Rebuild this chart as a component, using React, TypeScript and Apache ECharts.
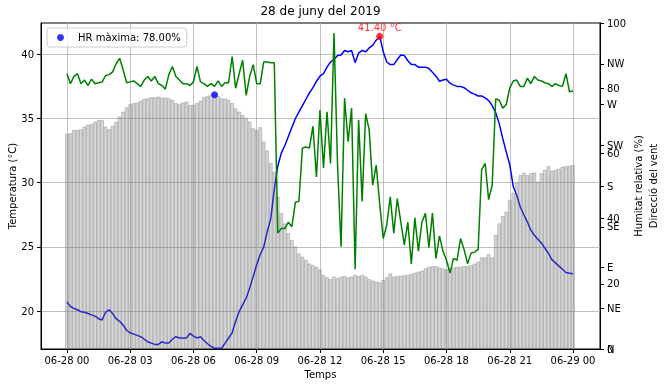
import React, { useEffect, useRef } from "react";
import * as echarts from "echarts";

const FONT = "DejaVu Sans";
const STEP_MINUTES = 10;

const temperature = [
  20.7, 20.35, 20.2, 20.1, 19.95, 19.9, 19.8, 19.7, 19.6, 19.4,
  19.3, 19.9, 20.1, 19.8, 19.4, 19.2, 18.9, 18.5, 18.3, 18.2,
  18.1, 18.0, 17.8, 17.6, 17.5, 17.4, 17.4, 17.6, 17.5, 17.5,
  17.8, 18.0, 17.9, 17.9, 17.9, 18.25, 18.05, 17.9, 18.0, 17.7,
  17.45, 17.25, 17.1, 17.1, 17.1, 17.5, 17.9, 18.3, 19.2, 19.95,
  20.5, 21.0, 21.8, 22.7, 23.6, 24.4, 25.0, 26.2, 27.2, 29.5,
  31.3, 32.3, 32.9, 33.6, 34.3, 35.0, 35.5, 36.0, 36.5, 37.0,
  37.4, 37.9, 38.3, 38.5, 39.0, 39.4, 39.6, 39.9, 39.95, 40.3,
  40.2, 40.3, 39.35, 40.1, 40.3, 40.2, 40.5, 40.7, 41.1, 41.4,
  40.2, 39.4, 39.2, 39.2, 39.6, 39.95, 39.9, 39.5, 39.2, 39.2,
  39.0, 39.0, 39.0, 38.9, 38.6, 38.3, 37.9, 38.0, 38.05, 37.75,
  37.6, 37.5, 37.5, 37.4, 37.2, 37.0, 36.9, 36.75, 36.75, 36.6,
  36.4, 36.0, 35.45, 34.6, 33.45, 32.4, 31.4, 29.7, 29.0, 28.1,
  27.5, 26.95, 26.3, 25.9, 25.6, 25.3, 24.9, 24.5, 24.0, 23.75,
  23.5, 23.25, 23.0, 22.95, 22.9,
];

const humidity = [
  66.0, 66.2, 67.2, 67.2, 67.4, 68.2, 68.8, 69.0, 69.7, 70.2,
  70.2, 68.2, 67.4, 68.4, 69.7, 71.3, 72.8, 74.1, 75.1, 75.4,
  75.6, 76.2, 76.7, 76.9, 77.2, 77.2, 77.4, 77.1, 77.1, 76.9,
  76.4, 75.4, 75.2, 75.6, 75.9, 74.9, 74.9, 75.4, 76.1, 77.3,
  77.6, 77.9, 78.0, 77.6, 76.9, 76.8, 76.4, 75.4, 73.8, 72.8,
  71.8, 70.8, 69.7, 67.7, 67.2, 68.0, 63.6, 60.8, 57.0, 54.4,
  46.7, 41.6, 38.5, 35.5, 33.4, 31.4, 29.3, 28.3, 27.3, 26.2,
  25.7, 25.2, 24.4, 22.7, 22.0, 21.4, 22.2, 21.7, 22.2, 22.4,
  22.0, 22.2, 22.7, 22.4, 22.7, 22.2, 21.4, 21.0, 20.7, 20.4,
  21.2, 22.0, 23.2, 22.2, 22.4, 22.4, 22.7, 22.7, 23.0, 23.4,
  23.7, 24.0, 24.7, 25.2, 25.4, 25.4, 25.0, 24.7, 24.4, 24.7,
  25.0, 25.2, 25.2, 25.4, 25.4, 25.7, 26.2, 26.8, 28.1, 28.1,
  29.1, 28.1, 35.0, 38.5, 40.8, 42.1, 45.7, 47.9, 51.0, 53.3,
  54.1, 53.3, 53.9, 54.1, 51.3, 53.9, 54.9, 56.1, 54.7, 54.9,
  55.3, 55.9, 56.1, 56.2, 56.4,
];

const windDirection = [
  304, 293, 301, 304, 293, 297, 291, 298, 293, 294,
  295, 302, 303, 306, 315, 321, 308, 294, 295, 296,
  293, 290, 297, 301, 296, 301, 293, 291, 287, 303,
  312, 301, 297, 293, 293, 291, 295, 312, 295, 293,
  290, 293, 290, 296, 290, 294, 294, 323, 288, 304,
  319, 280, 301, 314, 293, 293, 317, 317, 316, 316,
  128, 133, 133, 140, 135, 162, 163, 222, 223, 222,
  246, 190, 264, 200, 262, 205, 349, 203, 113, 277,
  229, 266, 88, 253, 163, 260, 242, 181, 203, 160,
  122, 137, 168, 128, 166, 140, 115, 140, 94, 145,
  108, 140, 150, 112, 150, 100, 125, 108, 98, 84,
  100, 98, 122, 110, 94, 106, 107, 110, 198, 205,
  165, 181, 276, 275, 266, 270, 288, 296, 297, 290,
  290, 299, 293, 301, 297, 296, 294, 293, 290, 293,
  291, 290, 304, 284, 285,
];

const xTickHours = [0, 3, 6, 9, 12, 15, 18, 21, 24];
const xTickLabels = [
  "06-28 00", "06-28 03", "06-28 06", "06-28 09", "06-28 12",
  "06-28 15", "06-28 18", "06-28 21", "06-29 00",
];
const tempTicks = [20, 25, 30, 35, 40];
const humTicks = [0, 20, 40, 60, 80, 100];
const windTicks = [0, 45, 90, 135, 180, 225, 270, 315];
const windLabels = ["N", "NE", "E", "SE", "S", "SW", "W", "NW"];

export default function App() {
  const ref = useRef<HTMLDivElement>(null);

  useEffect(() => {
    if (!ref.current) return;
    const chart = echarts.init(ref.current, null, { renderer: "svg" });

    const hours = temperature.map((_, i) => (i * STEP_MINUTES) / 60);
    const tempSeries = temperature.map((v, i) => [hours[i], v]);
    const humSeries = humidity.map((v, i) => [hours[i], v]);
    const windSeries = windDirection.map((v, i) => [hours[i], v]);

    let hi = 0;
    humidity.forEach((v, i) => { if (v > humidity[hi]) hi = i; });
    let ti = 0;
    temperature.forEach((v, i) => { if (v > temperature[ti]) ti = i; });
    const hrName = `HR màxima: ${humidity[hi].toFixed(2)}%`;

    const axisText = { fontSize: 10, color: "#000", fontFamily: FONT };

    chart.setOption({
      animation: false,
      textStyle: { fontFamily: FONT, color: "#000" },
      title: {
        text: "28 de juny del 2019",
        left: 320.5,
        top: 5,
        textAlign: "center",
        padding: 0,
        textStyle: { fontSize: 12, fontWeight: "normal", color: "#000", fontFamily: FONT },
      },
      legend: {
        data: [{ name: hrName, icon: "circle" }],
        left: 47,
        top: 28,
        orient: "vertical",
        itemWidth: 7,
        itemHeight: 7,
        padding: [3.5, 6, 3.5, 10],
        borderColor: "#cccccc",
        borderWidth: 1,
        borderRadius: 3,
        backgroundColor: "rgba(255,255,255,0.8)",
        textStyle: {
          fontSize: 10,
          color: "#000",
          fontFamily: FONT,
          lineHeight: 12,
          padding: [0, 0, 0, 9],
        },
      },
      grid: {
        left: 41,
        right: 67,
        top: 23,
        bottom: 38,
        show: true,
        borderColor: "#000",
        borderWidth: 1,
        backgroundColor: "transparent",
        containLabel: false,
        outerBoundsMode: "none",
      },
      xAxis: {
        type: "value",
        min: -1.23,
        max: 25.28,
        name: "Temps",
        nameLocation: "middle",
        nameGap: 20,
        nameMoveOverlap: false,
        nameTextStyle: axisText,
        axisLine: { show: true, onZero: false, lineStyle: { color: "#000", width: 1 } },
        axisTick: { show: true, length: 4, lineStyle: { color: "#000" }, customValues: xTickHours },
        axisLabel: {
          ...axisText,
          margin: 6,
          customValues: xTickHours,
          formatter: (v: number) => xTickLabels[xTickHours.indexOf(Math.round(v))] ?? "",
        },
        splitLine: { show: true, lineStyle: { color: "#b0b0b0", width: 0.8 } },
      },
      yAxis: [
        {
          type: "value",
          position: "left",
          min: 17.04,
          max: 42.44,
          name: "Temperatura (°C)",
          nameLocation: "middle",
          nameGap: 24,
          nameMoveOverlap: false,
          nameTextStyle: axisText,
          axisLine: { show: true, onZero: false, lineStyle: { color: "#000" } },
          axisTick: { show: true, length: 4, lineStyle: { color: "#000" }, customValues: tempTicks },
          axisLabel: { ...axisText, margin: 7, customValues: tempTicks },
          splitLine: { show: true, lineStyle: { color: "#b0b0b0", width: 0.8 } },
        },
        {
          type: "value",
          position: "right",
          min: 0,
          max: 100,
          name: "Humitat relativa (%)",
          nameLocation: "middle",
          nameGap: 33,
          nameRotate: 90,
          nameMoveOverlap: false,
          nameTextStyle: axisText,
          axisLine: { show: true, onZero: false, lineStyle: { color: "#000" } },
          axisTick: { show: true, length: 4, lineStyle: { color: "#000" }, customValues: humTicks },
          axisLabel: { ...axisText, margin: 7, customValues: humTicks },
          splitLine: { show: false },
        },
        {
          type: "value",
          position: "right",
          offset: 0,
          min: 0,
          max: 360,
          name: "Direcció del vent",
          nameLocation: "middle",
          nameGap: 48,
          nameRotate: 90,
          nameMoveOverlap: false,
          nameTextStyle: axisText,
          axisLine: { show: true, onZero: false, lineStyle: { color: "#000" } },
          axisTick: { show: true, length: 4, lineStyle: { color: "#000" }, customValues: windTicks },
          axisLabel: {
            ...axisText,
            margin: 7,
            customValues: windTicks,
            formatter: (v: number) => windLabels[Math.round(v / 45)] ?? "",
          },
          splitLine: { show: false },
        },
      ],
      series: [
        {
          name: "Temperatura",
          type: "line",
          xAxisIndex: 0,
          yAxisIndex: 0,
          data: tempSeries,
          showSymbol: false,
          symbol: "none",
          lineStyle: { color: "#0000ff", width: 1.5 },
          itemStyle: { color: "#0000ff" },
          z: 1,
        },
        {
          name: "Humitat",
          type: "bar",
          xAxisIndex: 0,
          yAxisIndex: 1,
          data: humSeries,
          barWidth: 3.5,
          itemStyle: {
            color: "rgba(128,128,128,0.32)",
            borderColor: "rgba(80,80,80,0.45)",
            borderWidth: 0.6,
          },
          z: 2,
        },
        {
          name: "Vent",
          type: "line",
          xAxisIndex: 0,
          yAxisIndex: 2,
          data: windSeries,
          showSymbol: false,
          symbol: "none",
          lineStyle: { color: "#008000", width: 1.5 },
          itemStyle: { color: "#008000" },
          z: 3,
        },
        {
          name: hrName,
          type: "scatter",
          xAxisIndex: 0,
          yAxisIndex: 1,
          data: [[hours[hi], humidity[hi]]],
          symbol: "circle",
          symbolSize: 7,
          itemStyle: { color: "#0000ff" },
          z: 4,
        },
        {
          name: "Temperatura màxima",
          type: "scatter",
          xAxisIndex: 0,
          yAxisIndex: 0,
          data: [[hours[ti], temperature[ti]]],
          symbol: "circle",
          symbolSize: 7,
          itemStyle: { color: "#ff0000" },
          label: {
            show: true,
            position: "top",
            distance: 0,
            formatter: `${temperature[ti].toFixed(2)} °C`,
            color: "#ff0000",
            fontSize: 10,
            fontFamily: FONT,
          },
          z: 4,
        },
      ],
    });

    return () => chart.dispose();
  }, []);

  return (
    <div
      ref={ref}
      style={{ position: "fixed", left: 0, top: 0, width: 667, height: 387 }}
    />
  );
}
